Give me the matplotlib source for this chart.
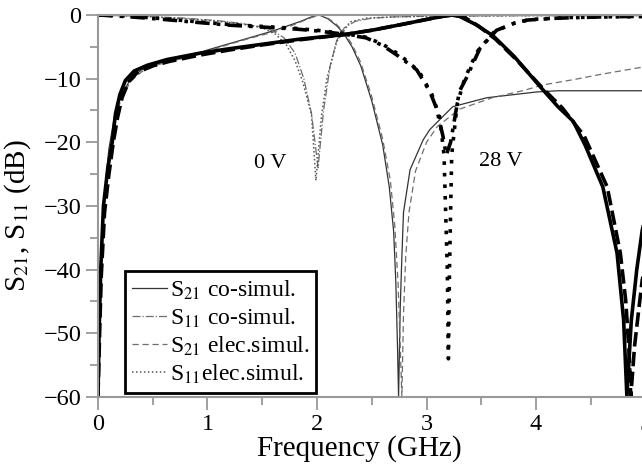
import matplotlib; matplotlib.use("Agg")
import matplotlib.pyplot as plt
from matplotlib.ticker import MultipleLocator

plt.rcParams['font.family'] = ['Liberation Serif', 'DejaVu Serif']
plt.rcParams['mathtext.fontset'] = 'stix'

# ── Data (frequency in GHz, level in dB) ────────────────────────────────────

# 0 V, S21 co-simulation (thin solid)
f_s21_0v_co = [0, 0.015, 0.03, 0.06, 0.1, 0.15, 0.2, 0.3, 0.4, 0.55, 0.7, 0.84,
               1.0, 1.2, 1.4, 1.6, 1.75, 1.85, 1.95, 2.02, 2.1, 2.18, 2.24, 2.32,
               2.4, 2.5, 2.6, 2.66, 2.7, 2.72, 2.735, 2.745, 2.76, 2.775, 2.79,
               2.85, 2.97, 3.03, 3.24, 3.55, 4.0, 4.2, 5.2]
s21_0v_co = [-60, -45, -36, -28, -21, -16, -13, -10, -8.6, -7.6, -7.0, -6.4,
             -5.5, -4.5, -3.5, -2.5, -1.6, -1.0, -0.3, 0, -0.6, -1.7, -2.8, -5,
             -8, -13.5, -20.4, -27, -34, -42, -52, -60, -46, -38, -31,
             -24.3, -19.6, -18, -14.4, -13, -12.1, -11.9, -11.9]

# 0 V, S21 electrical simulation (thin dashed)
f_s21_0v_el = [0, 0.02, 0.04, 0.07, 0.11, 0.16, 0.22, 0.3, 0.4, 0.55, 0.7, 0.84,
               1.0, 1.2, 1.4, 1.6, 1.75, 1.85, 1.95, 2.03, 2.1, 2.18, 2.24, 2.32,
               2.4, 2.5, 2.6, 2.67, 2.71, 2.74, 2.76, 2.775, 2.79, 2.81, 2.84,
               2.9, 3.0, 3.1, 3.3, 3.6, 3.9, 4.06, 4.36, 4.6, 4.97, 5.2]
s21_0v_el = [-60, -44, -34, -27, -21, -16, -12.8, -10.4, -8.9, -7.8, -7.1, -6.6,
             -5.7, -4.6, -3.6, -2.7, -1.8, -1.1, -0.4, 0, -0.5, -1.5, -2.6, -4.6,
             -7.5, -12.8, -19.5, -26, -33, -42, -52, -60, -47, -38, -31,
             -24.5, -20, -17.5, -14.8, -13, -11.8, -11, -10.1, -9.3, -8.2, -7.6]

# 0 V, S11 co-simulation (thin dash-dot)
f_s11_0v_co = [0, 0.4, 0.8, 1.1, 1.3, 1.5, 1.6, 1.7, 1.8, 1.88, 1.95, 2.01,
               2.06, 2.12, 2.18, 2.25, 2.35, 2.5, 2.7, 3.0, 4.0, 5.2]
s11_0v_co = [0, -0.2, -0.5, -0.9, -1.3, -1.9, -2.5, -3.6, -6, -10, -15.5, -24,
             -15, -8, -4, -2, -1, -0.5, -0.3, -0.2, -0.1, -0.1]

# 0 V, S11 electrical simulation (thin dotted)
f_s11_0v_el = [0, 0.4, 0.8, 1.1, 1.3, 1.5, 1.62, 1.72, 1.8, 1.87, 1.95, 1.99,
               2.04, 2.09, 2.13, 2.18, 2.3, 2.45, 2.7, 3.0, 4.0, 5.2]
s11_0v_el = [0, -0.2, -0.6, -1.0, -1.4, -2.0, -3.0, -4.7, -7.2, -10.5, -15.7, -26,
             -16, -10, -7.4, -4.2, -1.1, -0.5, -0.3, -0.2, -0.1, -0.1]

# 28 V, S21 co-simulation (thick solid)
f_s21_28v_co = [0, 0.01, 0.025, 0.05, 0.09, 0.13, 0.16, 0.2, 0.25, 0.33, 0.45,
                0.63, 0.93, 1.2, 1.5, 1.84, 2.24, 2.5, 2.8, 3.0, 3.12, 3.22, 3.3,
                3.45, 3.61, 3.8, 4.04, 4.2, 4.34, 4.45, 4.61, 4.74, 4.8, 4.83,
                4.87, 4.92, 4.97, 5.05]
s21_28v_co = [-60, -50, -40, -30, -24, -20, -15.5, -12.5, -10.3, -8.8, -7.9,
              -7.0, -6.0, -5.3, -4.6, -3.8, -3.1, -2.4, -1.4, -0.7, -0.3, 0, -0.2,
              -1.5, -3.3, -6.5, -11.3, -14.4, -16.7, -20.5, -27, -37.4, -47.9, -60,
              -48, -40, -33.8, -28]

# 28 V, S21 electrical simulation (thick dashed)
f_s21_28v_el = [0, 0.015, 0.03, 0.06, 0.1, 0.14, 0.18, 0.22, 0.28, 0.36, 0.5,
                0.65, 0.93, 1.2, 1.5, 1.84, 2.24, 2.5, 2.8, 3.0, 3.15, 3.25, 3.35,
                3.48, 3.63, 3.82, 4.06, 4.24, 4.44, 4.65, 4.77, 4.82, 4.85, 4.865,
                4.9, 4.94, 4.97, 5.05]
s21_28v_el = [-60, -50, -41, -31, -25, -20, -16, -13, -10.5, -9.0, -8.0,
              -7.3, -6.3, -5.5, -4.7, -3.9, -3.1, -2.4, -1.4, -0.7, -0.2, 0, -0.4,
              -1.8, -3.8, -7.0, -11.5, -14.6, -19, -27, -37.4, -45, -53, -60,
              -52, -46, -41.6, -36]

# 28 V, S11 co-simulation (thick dash-dot)
f_s11_28v_co = [0, 0.3, 0.6, 0.93, 1.2, 1.5, 1.8, 2.0, 2.24, 2.45, 2.6, 2.73,
                2.91, 3.03, 3.09, 3.15, 3.18, 3.22, 3.26, 3.3, 3.37, 3.43, 3.49,
                3.64, 3.8, 3.92, 4.2, 4.6, 5.0, 5.2]
s11_28v_co = [0, -0.3, -0.7, -1.2, -1.6, -1.9, -2.2, -2.5, -3.0, -3.6, -4.8, -6.3,
              -8.6, -12, -14.6, -19, -22, -20, -16, -12, -9.7, -7.4, -5.2,
              -2.4, -1.3, -0.8, -0.5, -0.3, -0.2, -0.2]

# 28 V, S11 electrical simulation (thick dotted)
f_s11_28v_el = [0, 0.3, 0.6, 0.93, 1.2, 1.5, 1.8, 2.0, 2.24, 2.45, 2.6, 2.75,
                2.93, 3.05, 3.12, 3.16, 3.19, 3.2, 3.21, 3.23, 3.28, 3.34, 3.4,
                3.47, 3.62, 3.8, 3.95, 4.3, 4.7, 5.2]
s11_28v_el = [0, -0.2, -0.6, -1.1, -1.5, -1.8, -2.1, -2.4, -2.9, -3.5, -4.6, -6.2,
              -8.8, -12.5, -16, -22, -40, -54, -40, -22, -14, -10.5, -8,
              -5.6, -2.6, -1.3, -0.7, -0.4, -0.3, -0.2]

state_labels = ["0 V", "28 V"]
state_pos = [(1.57, -23.4), (3.68, -23.0)]

# ── Figure ───────────────────────────────────────────────────────────────────
fig = plt.figure(figsize=(6.42, 4.68), dpi=100)
ax = fig.add_axes([0.1526, 0.1517, 0.8870, 0.8163])

thin = 0.9
thick = 2.6
ax.plot(f_s21_0v_co, s21_0v_co, color="#333333", lw=thin, ls="-",
        label="S$_{21}$ co-simul.")
ax.plot(f_s11_0v_co, s11_0v_co, color="#6e6e6e", lw=thin, ls="-.",
        label="S$_{11}$ co-simul.")
ax.plot(f_s21_0v_el, s21_0v_el, color="#6e6e6e", lw=thin, ls=(0, (5, 3)),
        label="S$_{21}$ elec.simul.")
ax.plot(f_s11_0v_el, s11_0v_el, color="#555555", lw=1.1, ls=(0, (1, 1.6)),
        label="S$_{11}$elec.simul.")

ax.plot(f_s21_28v_co, s21_28v_co, color="black", lw=thick, ls="-")
ax.plot(f_s21_28v_el, s21_28v_el, color="black", lw=thick, ls=(0, (4, 1.5)))
ax.plot(f_s11_28v_co, s11_28v_co, color="black", lw=thick, ls=(0, (4, 2, 1, 2)))
ax.plot(f_s11_28v_el, s11_28v_el, color="black", lw=thick, ls=(0, (1, 2.2)))

for lab, (x, y) in zip(state_labels, state_pos):
    ax.text(x, y, lab, fontsize=16, ha="center", va="center")

ax.set_xlim(0, 5.2)
ax.set_ylim(-60, 0)
ax.xaxis.set_major_locator(MultipleLocator(1))
ax.xaxis.set_minor_locator(MultipleLocator(0.5))
ax.yaxis.set_major_locator(MultipleLocator(10))
ax.yaxis.set_minor_locator(MultipleLocator(5))
ax.set_yticklabels([f"\u2212{abs(int(v))}" if v < 0 else f"{int(v)}"
                    for v in ax.get_yticks()])
ax.tick_params(which="both", direction="out", color="#999999", width=1.3,
               labelsize=17.5, top=False, right=False)
ax.tick_params(which="major", length=9, pad=3)
ax.tick_params(which="minor", length=6)
for side in ("left", "bottom", "top"):
    ax.spines[side].set_color("#999999")
    ax.spines[side].set_linewidth(1.5)
ax.spines["right"].set_visible(False)

ax.set_xlabel("Frequency (GHz)", fontsize=21)
ax.xaxis.set_label_coords(0.459, -0.1)
ax.set_ylabel("S$_{21}$, S$_{11}$ (dB)", fontsize=21)
ax.yaxis.set_label_coords(-0.114, 0.476)

leg = ax.legend(loc="lower left", bbox_to_anchor=(0.047, 0.0105),
                borderaxespad=0, fontsize=17, handlelength=1.5,
                handletextpad=0.1, labelspacing=0.2, borderpad=0.3,
                fancybox=False, frameon=True)
leg.get_frame().set_edgecolor("black")
leg.get_frame().set_linewidth(2)
leg.get_frame().set_alpha(1)

fig.savefig("out.png", dpi=100)
